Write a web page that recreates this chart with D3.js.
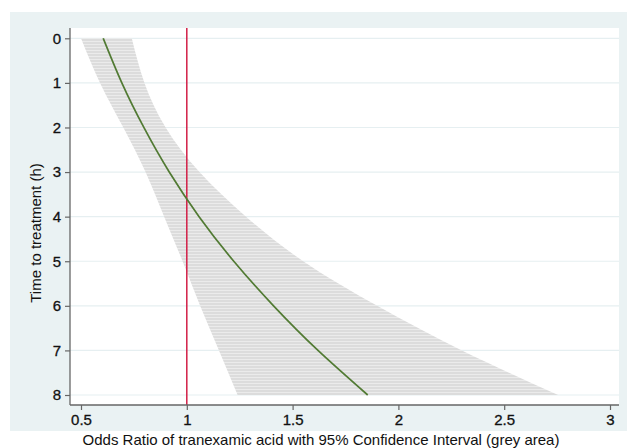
<!DOCTYPE html>
<html>
<head>
<meta charset="utf-8">
<script src="https://cdn.jsdelivr.net/npm/d3@7"></script>
<style>
  html, body { margin: 0; padding: 0; background: #fff; }
  svg { display: block; font-family: "Liberation Sans", Arial, sans-serif; }
</style>
</head>
<body>
<div id="chart"></div>
<script>
// Values
const hours = [0, 1, 2, 3, 4, 5, 6, 7, 8];
const oddsRatio = [0.605, 0.693, 0.797, 0.917, 1.058, 1.222, 1.41, 1.62, 1.855];
const lowerCI = [0.50, 0.59, 0.70, 0.805, 0.893, 0.98, 1.063, 1.152, 1.24];
const upperCI = [0.74, 0.80, 0.90, 1.06, 1.28, 1.55, 1.90, 2.30, 2.755];
const xTicks = [0.5, 1, 1.5, 2, 2.5, 3];
const yTicks = [0, 1, 2, 3, 4, 5, 6, 7, 8];
const refLine = 1;

const width = 630;
const height = 448;

// plot region box (white area)
const plot = { left: 70, right: 619, top: 28, bottom: 405 };

const svg = d3.select("#chart").append("svg")
  .attr("width", width)
  .attr("height", height)
  .attr("viewBox", [0, 0, width, height]);

// hatch pattern for the confidence band
const defs = svg.append("defs");
const pat = defs.append("pattern")
  .attr("id", "hatch")
  .attr("patternUnits", "userSpaceOnUse")
  .attr("width", 8)
  .attr("height", 3);
pat.append("rect").attr("width", 8).attr("height", 3).attr("fill", "#ebebeb");
pat.append("rect").attr("width", 8).attr("height", 2).attr("fill", "#dcdcdc");

// graph region (light blue) and plot region (white)
svg.append("rect")
  .attr("x", 10).attr("y", 12)
  .attr("width", 617).attr("height", 419)
  .attr("fill", "#eaf2f3");
svg.append("rect")
  .attr("x", plot.left).attr("y", plot.top)
  .attr("width", plot.right - plot.left).attr("height", plot.bottom - plot.top)
  .attr("fill", "#fff");

const x = d3.scaleLinear().domain([0.5, 3]).range([81, 610]);
const y = d3.scaleLinear().domain([0, 8]).range([38.3, 395]);

const rows = hours.map((h, i) => ({ h, or: oddsRatio[i], lo: lowerCI[i], hi: upperCI[i] }));

// gridlines
svg.append("g")
  .selectAll("line")
  .data(yTicks)
  .join("line")
  .attr("x1", plot.left).attr("x2", plot.right)
  .attr("y1", (d) => y(d)).attr("y2", (d) => y(d))
  .attr("stroke", "#e6eff1")
  .attr("stroke-width", 1.2);

// confidence band
const band = d3.area()
  .curve(d3.curveNatural)
  .y((d) => y(d.h))
  .x0((d) => x(d.lo))
  .x1((d) => x(d.hi));

svg.append("path")
  .datum(rows)
  .attr("d", band)
  .attr("fill", "url(#hatch)");

// reference line at OR = 1
svg.append("line")
  .attr("x1", x(refLine)).attr("x2", x(refLine))
  .attr("y1", plot.top).attr("y2", plot.bottom)
  .attr("stroke", "#d21f47")
  .attr("stroke-width", 1.5);

// point estimate
const line = d3.line()
  .curve(d3.curveNatural)
  .x((d) => x(d.or))
  .y((d) => y(d.h));

svg.append("path")
  .datum(rows)
  .attr("d", line)
  .attr("fill", "none")
  .attr("stroke", "#517a33")
  .attr("stroke-width", 1.7);

// axes
const xAxis = d3.axisBottom(x).tickValues(xTicks).tickFormat(d3.format("")).tickSize(5).tickPadding(4);
const yAxis = d3.axisLeft(y).tickValues(yTicks).tickSize(5).tickPadding(4);

const gx = svg.append("g").attr("transform", `translate(0,${plot.bottom})`).call(xAxis);
const gy = svg.append("g").attr("transform", `translate(${plot.left},0)`).call(yAxis);

gx.select(".domain").attr("d", `M${plot.left},0H${plot.right}`);
gy.select(".domain").attr("d", `M0,${plot.top}V${plot.bottom}`);

[gx, gy].forEach((g) => {
  g.select(".domain").attr("stroke", "#666").attr("stroke-width", 1.3);
  g.selectAll(".tick line").attr("stroke", "#666").attr("stroke-width", 1.2);
  g.selectAll(".tick text")
    .attr("fill", "#111")
    .attr("font-size", 15)
    .attr("stroke", "#111")
    .attr("stroke-width", 0.3)
    .attr("font-family", "Liberation Sans, Arial, sans-serif");
});

// axis titles
svg.append("text")
  .attr("x", 321)
  .attr("y", 445)
  .attr("text-anchor", "middle")
  .attr("font-size", 15)
  .attr("fill", "#111")
  .text("Odds Ratio of tranexamic acid with 95% Confidence Interval (grey area)");

svg.append("text")
  .attr("transform", "translate(41,233) rotate(-90)")
  .attr("text-anchor", "middle")
  .attr("font-size", 15)
  .attr("fill", "#111")
  .text("Time to treatment (h)");
</script>
</body>
</html>
